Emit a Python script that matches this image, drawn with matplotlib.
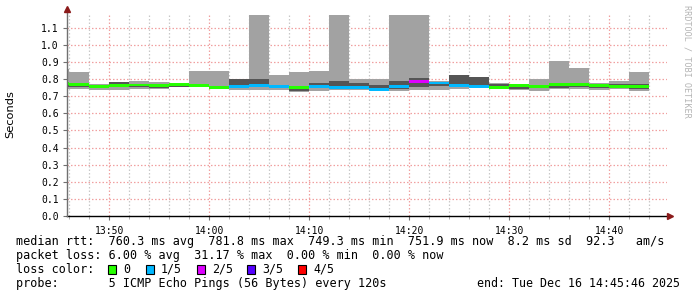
import matplotlib
matplotlib.use("Agg")
from matplotlib import pyplot as plt
from matplotlib.patches import Rectangle
import numpy as np

W, H = 697, 297

# bar start times (minutes after 13:00), 2 min steps
t_start = [44, 46, 48, 50, 52, 54, 56, 58, 60, 62, 64, 66, 68, 70, 72,
           74, 76, 78, 80, 82, 84, 86, 88, 90, 92, 94, 96, 98, 100, 102]
# sorted pings in seconds (p5 = 2.0 means off the top of the graph)
p1 = [0.745, 0.743, 0.735, 0.735, 0.740, 0.742, 0.752, 0.757, 0.748, 0.735,
      0.735, 0.735, 0.725, 0.731, 0.735, 0.735, 0.731, 0.730, 0.735, 0.735,
      0.740, 0.754, 0.746, 0.735, 0.731, 0.745, 0.742, 0.735, 0.745, 0.731]
p2 = [0.755, 0.752, 0.755, 0.756, 0.752, 0.751, 0.754, 0.758, 0.749, 0.748,
      0.756, 0.752, 0.733, 0.750, 0.746, 0.745, 0.737, 0.745, 0.754, 0.760,
      0.755, 0.755, 0.747, 0.745, 0.748, 0.750, 0.752, 0.748, 0.748, 0.745]
median = [0.775, 0.770, 0.760, 0.762, 0.766, 0.764, 0.768, 0.763, 0.753, 0.756,
          0.765, 0.756, 0.750, 0.760, 0.752, 0.751, 0.741, 0.758, 0.786, 0.778,
          0.764, 0.758, 0.752, 0.763, 0.759, 0.768, 0.767, 0.761, 0.756, 0.756]
p4 = [0.780, 0.772, 0.764, 0.781, 0.770, 0.768, 0.770, 0.766, 0.756, 0.800,
      0.800, 0.768, 0.754, 0.776, 0.790, 0.776, 0.766, 0.790, 0.806, 0.784,
      0.824, 0.812, 0.770, 0.766, 0.762, 0.776, 0.773, 0.765, 0.770, 0.772]
p5 = [0.858, 0.842, 0.771, 0.784, 0.791, 0.783, 0.772, 0.847, 0.847, 0.800,
      2.0, 0.822, 0.842, 0.848, 2.0, 0.800, 0.800, 2.0, 2.0, 0.790,
      0.824, 0.812, 0.777, 0.771, 0.800, 0.907, 0.865, 0.776, 0.789, 0.842]
loss = [0, 0, 0, 0, 0, 0, 0, 0, 0, 1, 1, 1, 0, 1, 1,
        1, 1, 1, 2, 1, 1, 1, 0, 0, 0, 0, 0, 0, 0, 0]

loss_labels = ['0', '1/5', '2/5', '3/5', '4/5']
loss_colors = ['#26ff00', '#00b8ff', '#dd00ff', '#5500ff', '#ff0000']

tick_pos = [50, 60, 70, 80, 90, 100]
tick_labels = ['13:50', '14:00', '14:10', '14:20', '14:30', '14:40']
y_ticks = [0.0, 0.1, 0.2, 0.3, 0.4, 0.5, 0.6, 0.7, 0.8, 0.9, 1.0, 1.1]

legend_rows = [
    "median rtt:  760.3 ms avg  781.8 ms max  749.3 ms min  751.9 ms now  8.2 ms sd  92.3   am/s",
    "packet loss: 6.00 % avg  31.17 % max  0.00 % min  0.00 % now",
    "loss color:",
    "probe:       5 ICMP Echo Pings (56 Bytes) every 120s",
]
end_text = "end: Tue Dec 16 14:45:46 2025"

x_min, x_max = 45 + 46 / 60, 105 + 46 / 60
y_max = 1.175

fig = plt.figure(figsize=(W / 100, H / 100), dpi=100)
fig.patch.set_facecolor('white')
ax_l, ax_r, ax_t, ax_b = 67, 666.7, 15.2, 215.8
ax = fig.add_axes([ax_l / W, 1 - ax_b / H, (ax_r - ax_l) / W, (ax_b - ax_t) / H])

t = np.array(t_start, dtype=float)
p1a, p2a, p4a, p5a = map(np.array, (p1, p2, p4, p5))
med = np.array(median)

# grid
dots = (0, (1.2, 1.6))
for m in range(46, 106, 2):
    if m % 10 == 0:
        continue
    ax.axvline(m, color='#c8c8c8', lw=0.9, ls=dots, zorder=0)
for m in tick_pos:
    ax.axvline(m, color='#f0a0a0', lw=0.9, ls=dots, zorder=0)
for v in y_ticks[1:]:
    ax.axhline(v, color='#f0a0a0', lw=0.9, ls=dots, zorder=0)

# smoke
ax.bar(t, p5a - p1a, width=2, bottom=p1a, align='edge', color='#a2a2a2', lw=0, zorder=1)
ax.bar(t, p4a - p2a, width=2, bottom=p2a, align='edge', color='#555555', lw=0, zorder=2)
# median, coloured by loss
mh = 0.017
ax.bar(t, [mh] * len(t), width=2, bottom=med - mh / 2, align='edge',
       color=[loss_colors[l] for l in loss], lw=0, zorder=3)

ax.set_xlim(x_min, x_max)
ax.set_ylim(0, y_max)
ax.set_xticks(tick_pos)
ax.set_xticklabels(tick_labels)
ax.set_xticks(range(46, 106, 2), minor=True)
ax.set_yticks(y_ticks)
ax.set_yticklabels(['%.1f' % v for v in y_ticks])
for lab in ax.get_xticklabels() + ax.get_yticklabels():
    lab.set_family('DejaVu Sans Mono')
    lab.set_fontsize(7)
ax.tick_params(axis='y', length=3, width=0.8, color='#707070', pad=3)
ax.tick_params(axis='x', which='major', length=3, width=0.8, color='#707070', pad=4)
ax.tick_params(axis='x', which='minor', length=2, width=0.6, color='#a0a0a0')
for s in ('top', 'right', 'left', 'bottom'):
    ax.spines[s].set_visible(False)

# axes with arrows
ax.plot([0, 1.006], [0, 0], transform=ax.transAxes, color='black', lw=1.0, clip_on=False, zorder=5)
ax.plot([0, 0], [0, 1.03], transform=ax.transAxes, color='#707070', lw=1.0, clip_on=False, zorder=5)
ax.plot([1.006], [0], transform=ax.transAxes, marker='>', ms=4, color='#8b1a1a', clip_on=False, zorder=6)
ax.plot([0], [1.03], transform=ax.transAxes, marker='^', ms=4, color='#8b1a1a', clip_on=False, zorder=6)

fig.text(10 / W, 1 - 114 / H, 'Seconds', rotation=90, ha='center', va='center',
         fontsize=8.2, family='DejaVu Sans')
fig.text(687 / W, 1 - 5 / H, 'RRDTOOL / TOBI OETIKER', rotation=270, ha='center', va='top',
         fontsize=6.1, family='DejaVu Sans Mono', color='#b4b4b4')

row_y = [242, 255.5, 269.5, 283.5]
for txt, yy in zip(legend_rows, row_y):
    fig.text(16 / W, 1 - yy / H, txt, ha='left', va='center',
             fontsize=8.5, family='DejaVu Sans Mono')
fig.text(680 / W, 1 - row_y[3] / H, end_text, ha='right', va='center',
         fontsize=8.35, family='DejaVu Sans Mono')

box_x = [108, 146, 197, 247, 298]
for bx, lab, col in zip(box_x, loss_labels, loss_colors):
    fig.patches.append(Rectangle((bx / W, 1 - 273.5 / H), 8 / W, 9 / H, transform=fig.transFigure,
                                 facecolor=col, edgecolor='black', lw=0.8))
    fig.text((bx + 15) / W, 1 - row_y[2] / H, lab, ha='left', va='center',
             fontsize=8.35, family='DejaVu Sans Mono')

fig.savefig('out.png', dpi=100, facecolor='white')
